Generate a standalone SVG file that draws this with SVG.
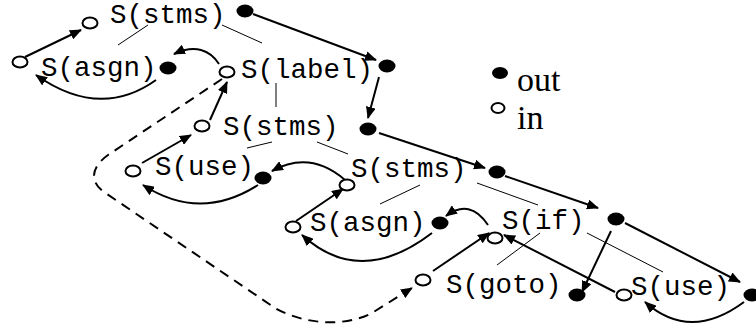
<svg xmlns="http://www.w3.org/2000/svg" width="756" height="332" viewBox="0 0 756 332">
<style>
.t{font-family:"Liberation Mono","Courier New",monospace;font-size:27.5px;fill:#000}
.lg{font-family:"Liberation Serif","Times New Roman",serif;font-size:34px;fill:#000}
.in{fill:#fff;stroke:#000;stroke-width:2}
.out{fill:#000}
.tree{stroke:#000;stroke-width:1;fill:none}
.ar{stroke:#000;stroke-width:2;fill:none;marker-end:url(#ah)}
.dash{stroke:#000;stroke-width:2;fill:none;stroke-dasharray:10 7;marker-end:url(#ah)}
</style>
<defs>
<marker id="ah" viewBox="0 0 12 10" refX="11" refY="5" markerWidth="12" markerHeight="10" orient="auto" markerUnits="userSpaceOnUse"><path d="M0,0 L12,5 L0,10 z" fill="#000"/></marker>
</defs>
<rect width="756" height="332" fill="#fff"/>
<g id="connectors">
<path class="tree" d="M148,25 L118,45 M222,25 L262,43 M276,83 L276,107 M272,142 L247,148 M317,142 L348,154 M420,185 L380,204 M477,183 L538,205 M540,233 L497,265 M587,233 L663,272"/>
<path class="ar" d="M25,57 L81,30"/>
<path class="ar" d="M253,14 L376,60"/>
<path class="ar" d="M379,77 L368,118"/>
<path class="ar" d="M379,133 L485,168"/>
<path class="ar" d="M505,176 L598,208"/>
<path class="ar" d="M625,223 L740,282"/>
<path class="ar" d="M611,231 L582,292"/>
<path class="ar" d="M615,292 L504,235"/>
<path class="ar" d="M433,271 L489,233"/>
<path class="ar" d="M488,225 Q470,198 446,216"/>
<path class="ar" d="M432,233 Q360,288 302,235"/>
<path class="ar" d="M296,221 L343,189"/>
<path class="ar" d="M345,180 Q310,150 272,171"/>
<path class="ar" d="M258,185 Q200,222 143,185"/>
<path class="ar" d="M142,163 L191,135"/>
<path class="ar" d="M210,120 L227,82"/>
<path class="ar" d="M219,64 C210,50 195,44 174,54"/>
<path class="ar" d="M156,80 Q100,120 36,75"/>
<path class="ar" d="M744,302 Q690,342 645,302"/>
<path class="dash" d="M222,79 L108,155 C90,168 90,182 104,192 L275,308 C305,325 345,327 372,313 L412,288"/>
</g>
<g id="n-stms1"><ellipse class="in" cx="90" cy="23" rx="7.5" ry="5.5"/><text class="t" x="110" y="23">S(stms)</text><ellipse class="out" cx="245" cy="11" rx="8.5" ry="6.5"/></g>
<g id="n-asgn1"><ellipse class="in" cx="20" cy="62" rx="7.5" ry="5.5"/><text class="t" x="41" y="76">S(asgn)</text><ellipse class="out" cx="168" cy="68" rx="8.5" ry="6.5"/></g>
<g id="n-label"><ellipse class="in" cx="227" cy="72" rx="7.5" ry="5.5"/><text class="t" x="241" y="78">S(label)</text><ellipse class="out" cx="387" cy="66" rx="8.5" ry="6.5"/></g>
<g id="n-stms2"><ellipse class="in" cx="202" cy="126" rx="7.5" ry="5.5"/><text class="t" x="223" y="135">S(stms)</text><ellipse class="out" cx="368" cy="129" rx="8.5" ry="6.5"/></g>
<g id="n-use1"><ellipse class="in" cx="133" cy="171" rx="7.5" ry="5.5"/><text class="t" x="155" y="175">S(use)</text><ellipse class="out" cx="263" cy="178" rx="8.5" ry="6.5"/></g>
<g id="n-stms3"><ellipse class="in" cx="347" cy="185" rx="7.5" ry="5.5"/><text class="t" x="351" y="177">S(stms)</text><ellipse class="out" cx="497" cy="172" rx="8.5" ry="6.5"/></g>
<g id="n-asgn2"><ellipse class="in" cx="293" cy="227" rx="7.5" ry="5.5"/><text class="t" x="310" y="231">S(asgn)</text><ellipse class="out" cx="440" cy="223" rx="8.5" ry="6.5"/></g>
<g id="n-if"><ellipse class="in" cx="495" cy="238" rx="7.5" ry="5.5"/><text class="t" x="502" y="229">S(if)</text><ellipse class="out" cx="616" cy="219" rx="8.5" ry="6.5"/></g>
<g id="n-goto"><ellipse class="in" cx="423" cy="280" rx="7.5" ry="5.5"/><text class="t" x="446" y="293">S(goto)</text><ellipse class="out" cx="577" cy="295" rx="8.5" ry="6.5"/></g>
<g id="n-use2"><ellipse class="in" cx="624" cy="295" rx="7.5" ry="5.5"/><text class="t" x="631" y="295">S(use)</text><ellipse class="out" cx="752" cy="295" rx="8.5" ry="6.5"/></g>
<g id="legend"><ellipse class="out" cx="500" cy="73" rx="8" ry="6"/><text class="lg" x="517" y="91">out</text><ellipse class="in" cx="498" cy="108" rx="6.5" ry="5"/><text class="lg" x="517" y="129">in</text></g>
</svg>
